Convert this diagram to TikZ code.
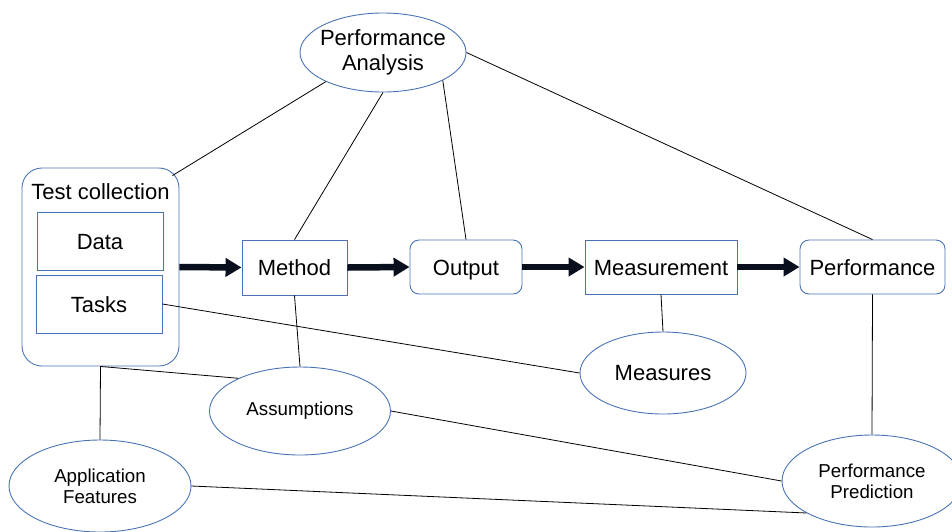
\documentclass[tikz,border=0pt]{standalone}
\usepackage{fontspec}
\setmainfont{Liberation Sans}
\usetikzlibrary{shapes.geometric,arrows.meta}
\definecolor{shapeblue}{HTML}{4A73B4}
\definecolor{arrowcol}{HTML}{0A0F1E}
\tikzset{
  big/.style={font=\fontsize{22}{25}\selectfont},
  small/.style={font=\fontsize{18.7}{21}\selectfont},
  box/.style={draw=shapeblue, line width=0.9pt, inner sep=0pt, align=center, big, text height=16pt, text depth=0pt},
  rbox/.style={box, rounded corners=9pt},
  oval/.style={draw=shapeblue, line width=0.9pt, ellipse, inner sep=0pt, align=center},
  flow/.style={line width=6.5pt, draw=arrowcol, -{Triangle[length=16pt,width=18pt]}},
  link/.style={draw=black, line width=0.8pt},
}
\begin{document}
\begin{tikzpicture}[x=1pt,y=-1pt]
\useasboundingbox (0,0) rectangle (952,531);
% Test collection group
\node[box, rounded corners=20pt, minimum width=157pt, minimum height=198pt] (tc) at (100.5,267) {};
\node[big, inner sep=0pt] (tctitle) at (100.5,192) {Test collection};
\node[box, minimum width=126pt, minimum height=58pt] (data) at (100,241) {Data};
\node[box, minimum width=126pt, minimum height=58pt] (tasks) at (99,304) {Tasks};
% pipeline
\node[box, minimum width=105pt, minimum height=55pt] (method) at (294.5,267.5) {Method};
\node[rbox, minimum width=112pt, minimum height=54pt] (output) at (466,267) {Output};
\node[box, minimum width=152pt, minimum height=54pt] (meas) at (661,267) {Measurement};
\node[rbox, minimum width=145pt, minimum height=54pt] (perf) at (872.5,267) {Performance};
% ovals
\node[oval, big, inner xsep=-5pt, minimum width=166pt, minimum height=79pt] (pa) at (383,52.5) {Performance\\Analysis};
\node[oval, big, minimum width=166pt, minimum height=82pt] (measures) at (663,373) {Measures};
\node[oval, small, minimum width=181pt, minimum height=88pt] (assump) at (300,411) {Assumptions};
\node[oval, small, minimum width=182pt, minimum height=92pt] (appf) at (100,486) {Application\\Features};
\node[oval, small, minimum width=180pt, minimum height=92pt] (pp) at (872,481) {Performance\\Prediction};
% flow arrows
\draw[flow] (tc.east) -- (method.west);
\draw[flow] (method.east) -- (output.west);
\draw[flow] (output.east) -- (meas.west);
\draw[flow] (meas.east) -- (perf.west);
% links
\coordinate (tccorner) at ([xshift=-7pt,yshift=-8pt]tc.north east);
\draw[link] (pa.207.8) -- (tccorner);
\draw[link] (pa.south) -- (method.north);
\draw[link] (pa.335) -- (output.north);
\draw[link] (pa.east) -- (perf.north);
\draw[link] (tasks.east) -- (measures.west);
\draw[link] (method.south) -- (assump.north);
\draw[link] (meas.south) -- (measures.north);
\draw[link] (perf.south) -- (pp.north);
\draw[link] (tc.south) -- (appf.north);
\draw[link] (tc.south) -- (assump.152.4);
\draw[link] (assump.east) -- (pp.west);
\draw[link] (appf.east) -- (pp.206);
\end{tikzpicture}
\end{document}
